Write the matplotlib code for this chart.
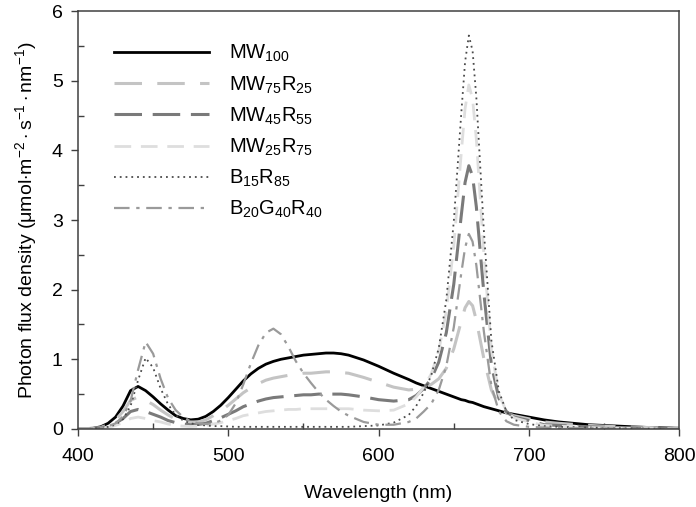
import numpy as np
import matplotlib.pyplot as plt
from matplotlib.ticker import MultipleLocator

plt.rcParams["font.family"] = ["Liberation Sans", "DejaVu Sans"]
plt.rcParams["mathtext.fontset"] = "custom"
plt.rcParams["mathtext.rm"] = "Liberation Sans"
plt.rcParams["mathtext.it"] = "Liberation Sans:italic"

# wavelength grid (nm) and spectra
wl = [400, 405, 410, 415, 420, 425, 430, 435, 440, 445, 450, 455, 460, 465, 470,
      475, 480, 485, 490, 495, 500, 505, 510, 515, 520, 525, 530, 535, 540, 545,
      550, 555, 560, 565, 570, 575, 580, 590, 600, 610, 620, 625, 630, 635, 640,
      645, 650, 655, 657.5, 660, 662.5, 665, 670, 675, 680, 685, 690, 700, 710,
      720, 740, 760, 780, 800]

mw100 = [0.0, 0.005, 0.01, 0.03, 0.08, 0.17, 0.33, 0.55, 0.61, 0.55, 0.46, 0.36, 0.27, 0.19, 0.15,
         0.13, 0.14, 0.18, 0.25, 0.34, 0.45, 0.57, 0.69, 0.79, 0.87, 0.93, 0.97, 1.0, 1.02, 1.04,
         1.06, 1.07, 1.08, 1.09, 1.09, 1.08, 1.06, 0.99, 0.90, 0.80, 0.71, 0.66, 0.62, 0.58, 0.54,
         0.50, 0.46, 0.42, 0.41, 0.39, 0.38, 0.36, 0.32, 0.29, 0.26, 0.23, 0.21, 0.17, 0.13,
         0.10, 0.06, 0.04, 0.02, 0.01]

mw75r25 = [0.0, 0.004, 0.008, 0.02, 0.06, 0.13, 0.25, 0.41, 0.46, 0.41, 0.35, 0.27, 0.20, 0.14, 0.11,
           0.10, 0.10, 0.13, 0.19, 0.26, 0.34, 0.43, 0.52, 0.59, 0.65, 0.70, 0.73, 0.75, 0.77, 0.78,
           0.80, 0.80, 0.81, 0.82, 0.82, 0.81, 0.80, 0.74, 0.67, 0.60, 0.56, 0.57, 0.60, 0.64, 0.72,
           0.87, 1.15, 1.55, 1.74, 1.83, 1.77, 1.56, 1.01, 0.56, 0.34, 0.23, 0.19, 0.145, 0.10,
           0.08, 0.05, 0.03, 0.02, 0.01]

mw45r55 = [0.0, 0.002, 0.005, 0.014, 0.04, 0.08, 0.15, 0.25, 0.28, 0.25, 0.21, 0.17, 0.12, 0.09, 0.07,
           0.06, 0.065, 0.08, 0.12, 0.16, 0.21, 0.26, 0.32, 0.36, 0.40, 0.43, 0.45, 0.46, 0.47, 0.48,
           0.49, 0.49, 0.50, 0.50, 0.50, 0.50, 0.49, 0.46, 0.42, 0.40, 0.42, 0.48, 0.58, 0.72, 0.96,
           1.38, 2.08, 3.07, 3.54, 3.78, 3.63, 3.19, 1.95, 0.92, 0.44, 0.25, 0.17, 0.12, 0.06,
           0.05, 0.03, 0.02, 0.01, 0.005]

mw25r75 = [0.0, 0.001, 0.003, 0.008, 0.02, 0.05, 0.09, 0.15, 0.17, 0.15, 0.12, 0.10, 0.07, 0.05, 0.04,
           0.035, 0.04, 0.05, 0.07, 0.09, 0.12, 0.15, 0.19, 0.21, 0.23, 0.25, 0.26, 0.27, 0.28, 0.28,
           0.29, 0.29, 0.29, 0.29, 0.29, 0.29, 0.29, 0.27, 0.26, 0.27, 0.36, 0.46, 0.60, 0.79, 1.12,
           1.69, 2.63, 3.97, 4.60, 4.94, 4.74, 4.16, 2.51, 1.14, 0.50, 0.25, 0.16, 0.10, 0.05,
           0.04, 0.02, 0.01, 0.005, 0.003]

b15r85 = [0.0, 0.0, 0.005, 0.01, 0.03, 0.06, 0.14, 0.33, 0.70, 1.02, 0.88, 0.58, 0.35, 0.20, 0.12,
          0.08, 0.06, 0.05, 0.04, 0.04, 0.035, 0.03, 0.03, 0.03, 0.03, 0.03, 0.03, 0.03, 0.03, 0.03,
          0.03, 0.03, 0.03, 0.03, 0.03, 0.03, 0.03, 0.04, 0.05, 0.09, 0.20, 0.33, 0.52, 0.77, 1.16,
          1.85, 2.98, 4.54, 5.27, 5.65, 5.43, 4.76, 2.85, 1.27, 0.54, 0.25, 0.13, 0.07, 0.04,
          0.03, 0.02, 0.01, 0.005, 0.0]

b20g40r40 = [0.0, 0.0, 0.005, 0.015, 0.04, 0.08, 0.18, 0.40, 0.85, 1.25, 1.08, 0.72, 0.44, 0.27, 0.17,
             0.11, 0.08, 0.07, 0.08, 0.12, 0.20, 0.37, 0.64, 0.94, 1.20, 1.38, 1.44, 1.36, 1.18, 0.97,
             0.80, 0.66, 0.53, 0.42, 0.33, 0.25, 0.19, 0.10, 0.06, 0.06, 0.10, 0.15, 0.25, 0.36, 0.56,
             0.90, 1.46, 2.24, 2.60, 2.80, 2.69, 2.35, 1.40, 0.62, 0.25, 0.11, 0.06, 0.03, 0.02,
             0.01, 0.01, 0.005, 0.0, 0.0]

labels = [r"MW$_{100}$", r"MW$_{75}$R$_{25}$", r"MW$_{45}$R$_{55}$",
          r"MW$_{25}$R$_{75}$", r"B$_{15}$R$_{85}$", r"B$_{20}$G$_{40}$R$_{40}$"]

series = [mw100, mw75r25, mw45r55, mw25r75, b15r85, b20g40r40]
styles = [
    dict(color="black", lw=2.0, linestyle="-"),
    dict(color="#c4c4c4", lw=2.2, linestyle=(0, (9, 5))),
    dict(color="#7a7a7a", lw=2.2, linestyle=(0, (9, 3.5))),
    dict(color="#dedede", lw=2.0, linestyle=(0, (6, 3.5))),
    dict(color="#4a4a4a", lw=1.3, linestyle=(0, (1, 2.2))),
    dict(color="#9a9a9a", lw=1.6, linestyle=(0, (7, 3, 1.5, 3))),
]

fig = plt.figure(figsize=(6.96, 5.07), dpi=100)
ax = fig.add_axes([0.112, 0.154, 0.864, 0.824])

for y, lab, st in zip(series, labels, styles):
    ax.plot(wl, y, label=lab, **st)

ax.set_xlim(400, 800)
ax.set_ylim(0, 6)
ax.xaxis.set_major_locator(MultipleLocator(100))
ax.xaxis.set_minor_locator(MultipleLocator(50))
ax.yaxis.set_major_locator(MultipleLocator(1))
ax.yaxis.set_minor_locator(MultipleLocator(0.5))
ax.tick_params(which="major", direction="out", length=5, width=1, color="#404040",
               labelsize=14)
ax.tick_params(axis="x", which="major", pad=9)
ax.tick_params(axis="y", which="major", pad=6)
ax.tick_params(which="minor", direction="in", length=4, width=1, color="#404040")
for sp in ax.spines.values():
    sp.set_color("#404040")
    sp.set_linewidth(1.1)

ax.set_xlabel("Wavelength (nm)", fontsize=14, labelpad=14)
ax.set_ylabel(r"Photon flux density ($\mathregular{\mu}$mol$\cdot$m$^{-2}\cdot$s$^{-1}\cdot$nm$^{-1}$)",
              fontsize=14, labelpad=9)

ax.legend(loc="upper left", bbox_to_anchor=(0.03, 0.967), frameon=False, fontsize=14.5,
          handlelength=4.7, handletextpad=1.0, labelspacing=0.49)

fig.savefig("out.png", dpi=100)
